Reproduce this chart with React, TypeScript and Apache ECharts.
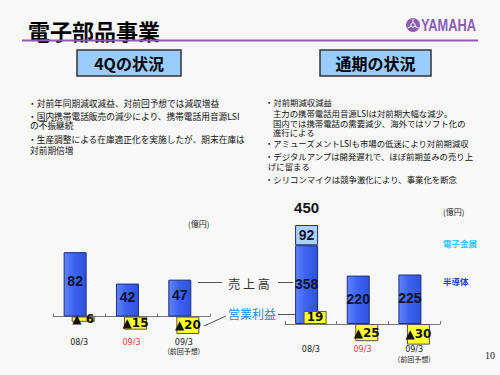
import React, { useEffect, useRef } from "react";
import * as echarts from "echarts";

// ---- data ----
const categories = ["08/3", "09/3", "09/3"];
const categoryNotes = ["", "", "(前回予想)"];
const quarterSales = [82, 42, 47];
const quarterProfit = [-6, -15, -20];
const fySemiconductor = [358, 220, 225];
const fyElectronicMetals: (number | null)[] = [92, null, null];
const fyProfit = [19, -25, -30];

const leftNotes = [
  "・対前年同期減収減益、対前回予想では減収増益",
  "・国内携帯電話販売の減少により、携帯電話用音源LSI",
  "の不振継続",
  "・生産調整による在庫適正化を実施したが、期末在庫は",
  "対前期倍増",
];
const rightNotes = [
  "・対前期減収減益",
  "主力の携帯電話用音源LSIは対前期大幅な減少。",
  "国内では携帯電話の需要減少、海外ではソフト化の",
  "進行による",
  "・アミューズメントLSIも市場の低迷により対前期減収",
  "・デジタルアンプは開発遅れで、ほぼ前期並みの売り上",
  "げに留まる",
  "・シリコンマイクは競争激化により、事業化を断念",
];

const JP = "'Noto Sans CJK JP', sans-serif";
const NUM = "'Liberation Sans', Arial, sans-serif";

const catData = categories.map((c, i) => (categoryNotes[i] ? c + "\n" + categoryNotes[i] : c));

const fmtProfit = (p: any) => {
  const v = p.value as number;
  if (v < 0) {
    const a = Math.abs(v);
    return "▲" + (a < 10 ? " " : "") + a;
  }
  return String(v);
};

// grid geometry + value ranges
const LEFT_GRID = { left: 53, width: 157, top: 238, height: 110 };
const RIGHT_GRID = { left: 285, width: 155, top: 214, height: 132 };
const LEFT_SALES_RANGE = [-40, 100];
const LEFT_PROFIT_RANGE = [-36, 90];
const RIGHT_SALES_RANGE = [-100, 500];
const RIGHT_PROFIT_RANGE = [-32, 160];

const zeroOffset = (h: number, r: number[]) => -h * (-r[0]) / (r[1] - r[0]);

const xAxisCommon = (gridIndex: number, offset: number) => ({
  type: "category",
  gridIndex,
  data: catData,
  offset,
  axisLine: { onZero: false, lineStyle: { color: "#777", width: 1 } },
  axisTick: { show: true, inside: true, length: 3, lineStyle: { color: "#777" } },
  axisLabel: {
    margin: 21,
    interval: 0,
    formatter: (v: string, idx: number) => {
      const parts = v.split("\n");
      const head = idx === 1 ? "{r|" + parts[0] + "}" : "{n|" + parts[0] + "}";
      return parts.length > 1 ? head + "\n{s|" + parts[1] + "}" : head;
    },
    rich: {
      n: { fontSize: 8, color: "#222", fontFamily: "'DejaVu Sans', sans-serif", lineHeight: 9 },
      r: { fontSize: 8, color: "#ff3b3b", fontFamily: "'DejaVu Sans', sans-serif", lineHeight: 9 },
      s: { fontSize: 7, color: "#222", fontFamily: JP, lineHeight: 9 },
    },
  },
});

const blueFill = new echarts.graphic.LinearGradient(0, 0, 1, 0, [
  { offset: 0, color: "#5f84ff" },
  { offset: 0.45, color: "#3d63ef" },
  { offset: 1, color: "#2f52dc" },
]);
const blueStyle = { color: blueFill, borderColor: "#1f2f7a", borderWidth: 1 };
const lightStyle = { color: "#a9d2f6", borderColor: "#1f2f7a", borderWidth: 1 };
const yellowStyle = { color: "#ffff33", borderColor: "#555", borderWidth: 1 };
const valueLabel = {
  show: true,
  position: "inside",
  offset: [0, -3],
  fontSize: 14,
  fontWeight: "bold",
  fontFamily: NUM,
  color: "#0e1230",
};
const profitLabel = {
  show: true,
  position: "inside",
  fontSize: 12,
  fontWeight: "bold",
  fontFamily: "'DejaVu Sans', sans-serif",
  color: "#111",
  formatter: fmtProfit,
};

export default function App() {
  const ref = useRef<HTMLDivElement>(null);
  useEffect(() => {
    if (!ref.current) return;
    const chart = echarts.init(ref.current, undefined, { renderer: "svg" });

    const graphic: any[] = [
      { type: "text", x: 28, y: 30, style: { text: "電子部品事業", font: `bold 22px ${JP}`, fill: "#000", verticalAlign: "middle" } },
      { type: "line", shape: { x1: 22, y1: 40.5, x2: 478, y2: 40.5 }, style: { stroke: "#8a5fb0", lineWidth: 2 } },
      { type: "circle", shape: { cx: 413, cy: 25, r: 7 }, style: { fill: "#8a5fb0" } },
      { type: "circle", shape: { cx: 413, cy: 25, r: 2.2 }, style: { fill: "none", stroke: "#fff", lineWidth: 1 } },
      { type: "line", shape: { x1: 413, y1: 22.8, x2: 413, y2: 18.6 }, style: { stroke: "#fff", lineWidth: 1 } },
      { type: "line", shape: { x1: 411.1, y1: 26.1, x2: 407.5, y2: 28.2 }, style: { stroke: "#fff", lineWidth: 1 } },
      { type: "line", shape: { x1: 414.9, y1: 26.1, x2: 418.5, y2: 28.2 }, style: { stroke: "#fff", lineWidth: 1 } },
      { type: "text", x: 421, y: 25, scaleX: 0.8, originX: 0, originY: 0, style: { text: "YAMAHA", font: `bold 16px ${NUM}`, fill: "#8a5fb0", verticalAlign: "middle" } },
      { type: "rect", shape: { x: 77, y: 50, width: 104, height: 26 }, style: { fill: "#99ccff", stroke: "#333", lineWidth: 1.5 } },
      { type: "text", x: 129, y: 63, style: { text: "4Qの状況", font: `bold 16px ${JP}`, fill: "#000", align: "center", verticalAlign: "middle" } },
      { type: "rect", shape: { x: 320, y: 50, width: 111, height: 26 }, style: { fill: "#99ccff", stroke: "#333", lineWidth: 1.5 } },
      { type: "text", x: 375.5, y: 63, style: { text: "通期の状況", font: `bold 16px ${JP}`, fill: "#000", align: "center", verticalAlign: "middle" } },
      { type: "text", x: 188, y: 223, style: { text: "(億円)", font: `8px ${JP}`, fill: "#222", verticalAlign: "middle" } },
      { type: "text", x: 443, y: 211, style: { text: "(億円)", font: `8px ${JP}`, fill: "#222", verticalAlign: "middle" } },
      { type: "text", x: 443, y: 243, style: { text: "電子金属", font: `bold 8.5px ${JP}`, fill: "#33c4f4", verticalAlign: "middle" } },
      { type: "text", x: 443, y: 281, style: { text: "半導体", font: `bold 8.5px ${JP}`, fill: "#2244cc", verticalAlign: "middle" } },
      { type: "line", shape: { x1: 198, y1: 282.5, x2: 222, y2: 282.5 }, style: { stroke: "#555", lineWidth: 1 } },
      { type: "text", x: 249, y: 283, style: { text: "売 上 高", font: `12px ${JP}`, fill: "#333", align: "center", verticalAlign: "middle" } },
      { type: "line", shape: { x1: 278, y1: 282.5, x2: 293, y2: 282.5 }, style: { stroke: "#555", lineWidth: 1 } },
      { type: "line", shape: { x1: 204, y1: 326, x2: 226, y2: 316 }, style: { stroke: "#555", lineWidth: 1 } },
      { type: "text", x: 252, y: 313, style: { text: "営業利益", font: `12px ${JP}`, fill: "#2a8ad8", align: "center", verticalAlign: "middle" } },
      { type: "line", shape: { x1: 278, y1: 314.5, x2: 307, y2: 314.5 }, style: { stroke: "#555", lineWidth: 1 } },
      { type: "text", x: 485, y: 355, style: { text: "10", font: `10px 'Liberation Serif', serif`, fill: "#222", verticalAlign: "middle" } },
    ];
    const leftY = [103, 116, 125.5, 139, 150];
    leftNotes.forEach((t, i) => {
      graphic.push({ type: "text", x: t.startsWith("・") ? 28 : 30, y: leftY[i], style: { text: t, font: `8.7px ${JP}`, lineHeight: 9, fill: "#111", verticalAlign: "middle" } });
    });
    const rightY = [102, 113, 122.5, 132, 143, 156, 166, 179];
    rightNotes.forEach((t, i) => {
      graphic.push({ type: "text", x: t.startsWith("・") ? 265 : i >= 6 ? 268 : 273, y: rightY[i], style: { text: t, font: `8.4px ${JP}`, lineHeight: 9, fill: "#111", verticalAlign: "middle" } });
    });

    const option: any = {
      animation: false,
      backgroundColor: "#f8f8f8",
      textStyle: { fontFamily: JP },
      graphic,
      grid: [
        { ...LEFT_GRID, outerBoundsMode: "none" },
        { ...RIGHT_GRID, outerBoundsMode: "none" },
      ],
      xAxis: [
        xAxisCommon(0, zeroOffset(LEFT_GRID.height, LEFT_SALES_RANGE)),
        xAxisCommon(1, zeroOffset(RIGHT_GRID.height, RIGHT_SALES_RANGE)),
      ],
      yAxis: [
        { type: "value", gridIndex: 0, min: LEFT_SALES_RANGE[0], max: LEFT_SALES_RANGE[1], show: false },
        { type: "value", gridIndex: 0, min: LEFT_PROFIT_RANGE[0], max: LEFT_PROFIT_RANGE[1], show: false },
        { type: "value", gridIndex: 1, min: RIGHT_SALES_RANGE[0], max: RIGHT_SALES_RANGE[1], show: false },
        { type: "value", gridIndex: 1, min: RIGHT_PROFIT_RANGE[0], max: RIGHT_PROFIT_RANGE[1], show: false },
      ],
      series: [
        { name: "売上高(4Q)", type: "bar", xAxisIndex: 0, yAxisIndex: 0, data: quarterSales, barWidth: 23, itemStyle: blueStyle, label: valueLabel },
        { name: "営業利益(4Q)", type: "bar", xAxisIndex: 0, yAxisIndex: 1, data: quarterProfit, barWidth: 23, barGap: "-65%", itemStyle: yellowStyle, label: profitLabel },
        { name: "半導体", type: "bar", xAxisIndex: 1, yAxisIndex: 2, stack: "fy", data: fySemiconductor, barWidth: 23, itemStyle: blueStyle, label: { ...valueLabel, offset: [0, -1] } },
        { name: "電子金属", type: "bar", xAxisIndex: 1, yAxisIndex: 2, stack: "fy", data: fyElectronicMetals, barWidth: 23, itemStyle: lightStyle, label: { ...valueLabel, offset: [0, 0] } },
        {
          name: "合計", type: "bar", xAxisIndex: 1, yAxisIndex: 2, stack: "fy",
          data: fyElectronicMetals.map((m) => (m == null ? null : 0)), barWidth: 23,
          itemStyle: { color: "transparent" },
          label: {
            show: true, position: "top", distance: 10, fontSize: 15, fontWeight: "bold", fontFamily: NUM, color: "#111",
            formatter: (p: any) => String(fySemiconductor[p.dataIndex] + (fyElectronicMetals[p.dataIndex] ?? 0)),
          },
        },
        { name: "営業利益(通期)", type: "bar", xAxisIndex: 1, yAxisIndex: 3, data: fyProfit, barWidth: 23, barGap: "-63%", itemStyle: yellowStyle, label: profitLabel },
      ],
    };
    chart.setOption(option);
    return () => chart.dispose();
  }, []);
  return <div ref={ref} style={{ position: "fixed", left: 0, top: 0, width: 500, height: 375 }} />;
}
